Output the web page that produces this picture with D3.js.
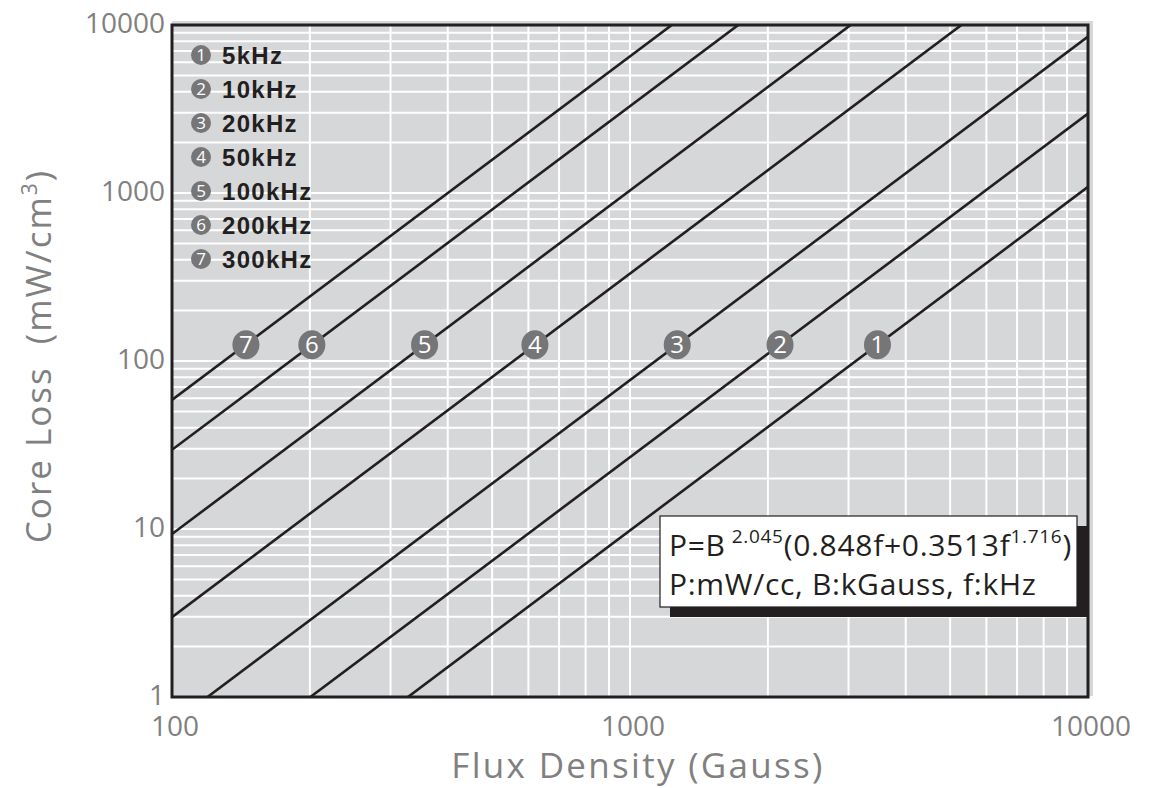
<!DOCTYPE html>
<html>
<head>
<meta charset="utf-8">
<script src="https://cdn.jsdelivr.net/npm/d3@7/dist/d3.min.js"></script>
<style>
  body { margin: 0; background: #fff; }
  svg { display: block; }
</style>
</head>
<body>
<div id="graph"></div>
<script>
// Frequencies (kHz) and the core loss read at each end of the chart (B = 100 G and B = 10000 G)
var freqLabels = ["5kHz", "10kHz", "20kHz", "50kHz", "100kHz", "200kHz", "300kHz"];
var lossAt100G = [0.0884, 0.241, 0.694, 2.99, 9.33, 29.6, 58.7];
var lossAt10kG = [1087, 2967, 8535, 36750, 114750, 364700, 721600];

// Numbered markers sitting on each line
var markerFlux = [3470, 2126, 1268, 620, 356, 202, 145];
var markerLoss = 125;

// Tick labels
var xTickValues = [100, 1000, 10000];
var yTickValues = [1, 10, 100, 1000, 10000];

var CanvasInfo = { width: 1149, height: 788, id: "#graph" };
var Plot = { left: 172, right: 1088, top: 25, bottom: 697 };

var ink = "#231f20";
var labelGrey = "#808080";
var dotGrey = "#767678";

var svg = d3.select(CanvasInfo.id)
            .append("svg")
            .attr("width", CanvasInfo.width)
            .attr("height", CanvasInfo.height);

var xAxis = d3.scaleLog().domain([100, 10000]).range([Plot.left, Plot.right]);
var yAxis = d3.scaleLog().domain([1, 10000]).range([Plot.bottom, Plot.top]);

// Background (slightly offset, as in the original print)
svg.append("rect")
   .attr("x", Plot.left).attr("y", Plot.top - 4)
   .attr("width", Plot.right - Plot.left + 5)
   .attr("height", Plot.bottom - Plot.top + 3)
   .attr("fill", "#d6d7d9");

// Grid
var grid = svg.append("g").attr("stroke", "#ffffff").attr("stroke-width", 2);
grid.selectAll(".vx")
    .data(xAxis.ticks())
    .enter().append("line")
    .attr("x1", function(d) { return xAxis(d); })
    .attr("x2", function(d) { return xAxis(d); })
    .attr("y1", Plot.top).attr("y2", Plot.bottom);
grid.selectAll(".hy")
    .data(yAxis.ticks())
    .enter().append("line")
    .attr("y1", function(d) { return yAxis(d); })
    .attr("y2", function(d) { return yAxis(d); })
    .attr("x1", Plot.left).attr("x2", Plot.right);

// Clip for the loss lines
svg.append("clipPath").attr("id", "plotClip")
   .append("rect")
   .attr("x", Plot.left).attr("y", Plot.top)
   .attr("width", Plot.right - Plot.left)
   .attr("height", Plot.bottom - Plot.top);

var lineData = freqLabels.map(function(name, i) {
    return [{ b: 100, p: lossAt100G[i] }, { b: 10000, p: lossAt10kG[i] }];
});

var lossLine = d3.line()
                 .x(function(point) { return xAxis(point.b); })
                 .y(function(point) { return yAxis(point.p); });

svg.append("g")
   .attr("clip-path", "url(#plotClip)")
   .selectAll("path")
   .data(lineData)
   .enter().append("path")
   .attr("d", lossLine)
   .attr("fill", "none")
   .attr("stroke", ink)
   .attr("stroke-width", 2.6);

// Frame
svg.append("rect")
   .attr("x", Plot.left).attr("y", Plot.top)
   .attr("width", Plot.right - Plot.left)
   .attr("height", Plot.bottom - Plot.top)
   .attr("fill", "none")
   .attr("stroke", ink)
   .attr("stroke-width", 3);

// Markers on the lines
var markers = svg.append("g").selectAll("g")
    .data(markerFlux)
    .enter().append("g")
    .attr("transform", function(d) { return "translate(" + xAxis(d) + "," + yAxis(markerLoss) + ")"; });
markers.append("ellipse").attr("rx", 13.5).attr("ry", 14.5).attr("fill", dotGrey);
markers.append("text")
       .attr("text-anchor", "middle")
       .attr("dy", "0.36em")
       .attr("fill", "#ffffff")
       .style("font-family", "'Open Sans', sans-serif")
       .style("font-size", "24px")
       .text(function(d, i) { return i + 1; });

// Legend
var legend = svg.append("g").selectAll("g")
    .data(freqLabels)
    .enter().append("g")
    .attr("transform", function(d, i) { return "translate(201," + (55 + i * 34) + ")"; });
legend.append("circle").attr("r", 10).attr("fill", dotGrey);
legend.append("text")
      .attr("text-anchor", "middle")
      .attr("dy", "0.36em")
      .attr("fill", "#ffffff")
      .style("font-family", "'Open Sans', sans-serif")
      .style("font-size", "17px")
      .text(function(d, i) { return i + 1; });
legend.append("text")
      .attr("x", 21)
      .attr("dy", "0.37em")
      .attr("fill", ink)
      .style("font-family", "'Liberation Sans', Arial, sans-serif")
      .style("font-weight", "bold")
      .style("font-size", "24px")
      .style("letter-spacing", "1.3px")
      .text(function(d) { return d; });

// Formula box
var boxX = 660, boxY = 516, boxW = 417, boxH = 91;
svg.append("rect")
   .attr("x", boxX + 10).attr("y", boxY + 10)
   .attr("width", boxW).attr("height", boxH)
   .attr("fill", ink);
svg.append("rect")
   .attr("x", boxX).attr("y", boxY)
   .attr("width", boxW).attr("height", boxH)
   .attr("fill", "#ffffff")
   .attr("stroke", ink)
   .attr("stroke-width", 1.2);

var formula = svg.append("text")
   .attr("x", boxX + 9).attr("y", boxY + 40)
   .attr("fill", ink)
   .style("font-family", "'Open Sans', sans-serif")
   .style("font-size", "30px")
   .style("letter-spacing", "0.7px");
formula.append("tspan").text("P=B");
formula.append("tspan").attr("dx", 6).attr("dy", -13).style("font-size", "19px").text("2.045");
formula.append("tspan").attr("dy", 13).text("(0.848f+0.3513f");
formula.append("tspan").attr("dy", -13).style("font-size", "19px").text("1.716");
formula.append("tspan").attr("dy", 13).text(")");

svg.append("text")
   .attr("x", boxX + 9).attr("y", boxY + 79)
   .attr("fill", ink)
   .style("font-family", "'Open Sans', sans-serif")
   .style("font-size", "30px")
   .style("letter-spacing", "0.7px")
   .text("P:mW/cc, B:kGauss, f:kHz");

// Tick labels
var tickFont = "'Open Sans', sans-serif";
svg.append("g").selectAll("text")
   .data(yTickValues)
   .enter().append("text")
   .attr("x", Plot.left - 7)
   .attr("y", function(d) { return yAxis(d) - 2; })
   .attr("dy", "0.36em")
   .attr("text-anchor", "end")
   .attr("fill", labelGrey)
   .style("font-family", tickFont)
   .style("font-size", "28px")
   .text(function(d) { return d; });

svg.append("g").selectAll("text")
   .data(xTickValues)
   .enter().append("text")
   .attr("x", function(d) { return xAxis(d) + 3; })
   .attr("y", Plot.bottom + 39)
   .attr("text-anchor", "middle")
   .attr("fill", labelGrey)
   .style("font-family", tickFont)
   .style("font-size", "28px")
   .text(function(d) { return d; });

// Axis titles
svg.append("text")
   .attr("x", 638)
   .attr("y", 778)
   .attr("text-anchor", "middle")
   .attr("fill", labelGrey)
   .style("font-family", tickFont)
   .style("font-size", "35px")
   .style("letter-spacing", "2.3px")
   .text("Flux Density (Gauss)");

var yTitle = svg.append("text")
   .attr("transform", "translate(51,356) rotate(-90)")
   .attr("text-anchor", "middle")
   .attr("fill", labelGrey)
   .style("font-family", tickFont)
   .style("font-size", "35px")
   .style("letter-spacing", "2px");
yTitle.append("tspan").text("Core Loss\u00a0 (mW/cm");
yTitle.append("tspan").attr("dy", -14).style("font-size", "21px").text("3");
yTitle.append("tspan").attr("dy", 14).text(")");
</script>
</body>
</html>
